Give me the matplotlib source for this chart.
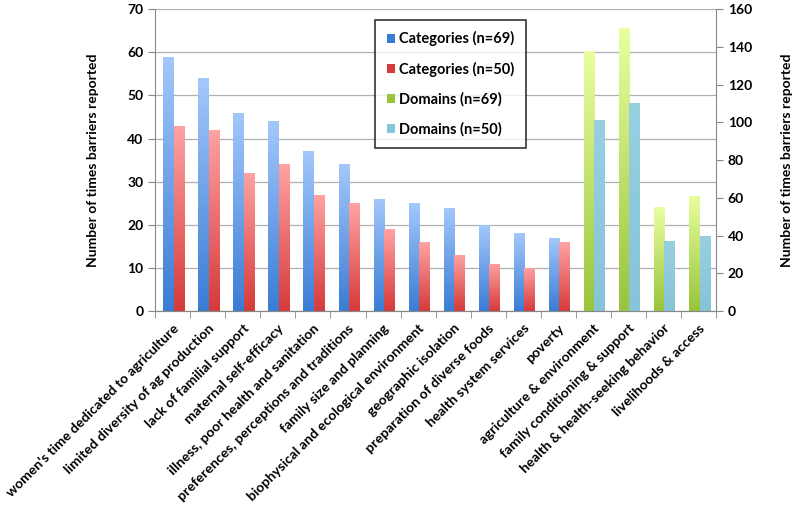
import numpy as np
import matplotlib
matplotlib.use("Agg")
import matplotlib.pyplot as plt
from matplotlib.colors import LinearSegmentedColormap
from matplotlib.patches import Patch

categories = [
    "women's time dedicated to agriculture",
    "limited diversity of ag production",
    "lack of familial support",
    "maternal self-efficacy",
    "illness, poor health and sanitation",
    "preferences, perceptions and traditions",
    "family size and planning",
    "biophysical and ecological environment",
    "geographic isolation",
    "preparation of diverse foods",
    "health system services",
    "poverty",
]
domains = [
    "agriculture & environment",
    "family conditioning & support",
    "health & health-seeking behavior",
    "livelihoods & access",
]
cat_n69 = [59, 54, 46, 44, 37, 34, 26, 25, 24, 20, 18, 17]
cat_n50 = [43, 42, 32, 34, 27, 25, 19, 16, 13, 11, 10, 16]
dom_n69 = [138, 150, 55, 61]
dom_n50 = [101, 110, 37, 40]

plt.rcParams['font.family'] = ['Lato', 'DejaVu Sans']

fig = plt.figure(figsize=(8, 5.09), dpi=100)
ax = fig.add_axes([0.194, 0.389, 0.701, 0.593])
ax2 = ax.twinx()

w = 0.3
x_cat = np.arange(len(categories))
x_dom = np.arange(len(categories), len(categories) + len(domains))

# colours (light top, dark bottom)
grads = {
    'blue': ('#a4c8fb', '#3a7cd5'),
    'red': ('#ffa3a3', '#d63a3a'),
    'green': ('#e9ffa0', '#98c43a'),
    'lblue': ('#98d0e0', '#86c4d8'),
}


def gradient_bars(a, bars, key):
    cmap = LinearSegmentedColormap.from_list(key, [grads[key][1], grads[key][0]])
    grad = np.linspace(0, 1, 256).reshape(-1, 1)
    for b in bars:
        x0, y0 = b.get_x(), b.get_y()
        x1, y1 = x0 + b.get_width(), y0 + b.get_height()
        b.set_facecolor('none')
        b.set_edgecolor('none')
        im = a.imshow(grad, cmap=cmap, aspect='auto', origin='lower',
                      extent=[x0, x1, y0, y1], zorder=2)
        im.set_clip_path(b)


b1 = ax.bar(x_cat - w / 2 + 0.03, cat_n69, w, zorder=2)
b2 = ax.bar(x_cat + w / 2 + 0.03, cat_n50, w, zorder=2)
b3 = ax2.bar(x_dom - w / 2 + 0.03, dom_n69, w, zorder=2)
b4 = ax2.bar(x_dom + w / 2 + 0.03, dom_n50, w, zorder=2)
gradient_bars(ax, b1, 'blue')
gradient_bars(ax, b2, 'red')
gradient_bars(ax2, b3, 'green')
gradient_bars(ax2, b4, 'lblue')

ax.set_xlim(-0.5, len(categories) + len(domains) - 0.5)
ax2.set_xlim(-0.5, len(categories) + len(domains) - 0.5)
ax.set_ylim(0, 70)
ax2.set_ylim(0, 160)
ax.set_yticks(range(0, 71, 10))
ax2.set_yticks(range(0, 161, 20))
ax.grid(axis='y', color='#b0b0b0', linewidth=0.9, zorder=0)
ax.set_axisbelow(True)

for a in (ax, ax2):
    a.spines['top'].set_visible(False)
    for s in ('left', 'right', 'bottom'):
        a.spines[s].set_color('#888888')
ax2.spines['left'].set_visible(False)
ax.spines['right'].set_visible(False)

labels = categories + domains
ax.set_xticks(np.arange(len(labels)))
ax.set_xticklabels(labels, rotation=45, ha='right', rotation_mode='anchor',
                   fontsize=10, fontweight='bold')
ax.tick_params(axis='x', length=0, pad=8)
ax.set_xticks(np.arange(len(labels) + 1) - 0.5, minor=True)
ax.tick_params(axis='x', which='minor', length=5, color='#888888')
ax.tick_params(axis='y', labelsize=10, length=5, color='#888888')
ax2.tick_params(axis='y', labelsize=10, length=5, color='#888888')
for t in ax.get_yticklabels() + ax2.get_yticklabels():
    t.set_fontweight('bold')

ax.set_ylabel('Number of times barriers reported', fontsize=10,
              fontweight='bold', labelpad=20)
ax2.set_ylabel('Number of times barriers reported', fontsize=10,
               fontweight='bold', labelpad=21)

handles = [Patch(facecolor=grads['blue'][1]), Patch(facecolor=grads['red'][1]),
           Patch(facecolor=grads['green'][1]), Patch(facecolor=grads['lblue'][1])]
names = ['Categories (n=69)', 'Categories (n=50)', 'Domains (n=69)', 'Domains (n=50)']
leg = ax2.legend(handles, names, loc='upper left', bbox_to_anchor=(0.392, 0.965),
                 fontsize=10.5, frameon=True, fancybox=False, labelspacing=1.05,
                 handlelength=0.55, handleheight=0.55, handletextpad=0.3,
                 borderpad=0.8, borderaxespad=0)
leg.get_frame().set_edgecolor('black')
leg.get_frame().set_linewidth(1.2)
for t in leg.get_texts():
    t.set_fontweight('bold')

fig.savefig('out.png', dpi=100)
